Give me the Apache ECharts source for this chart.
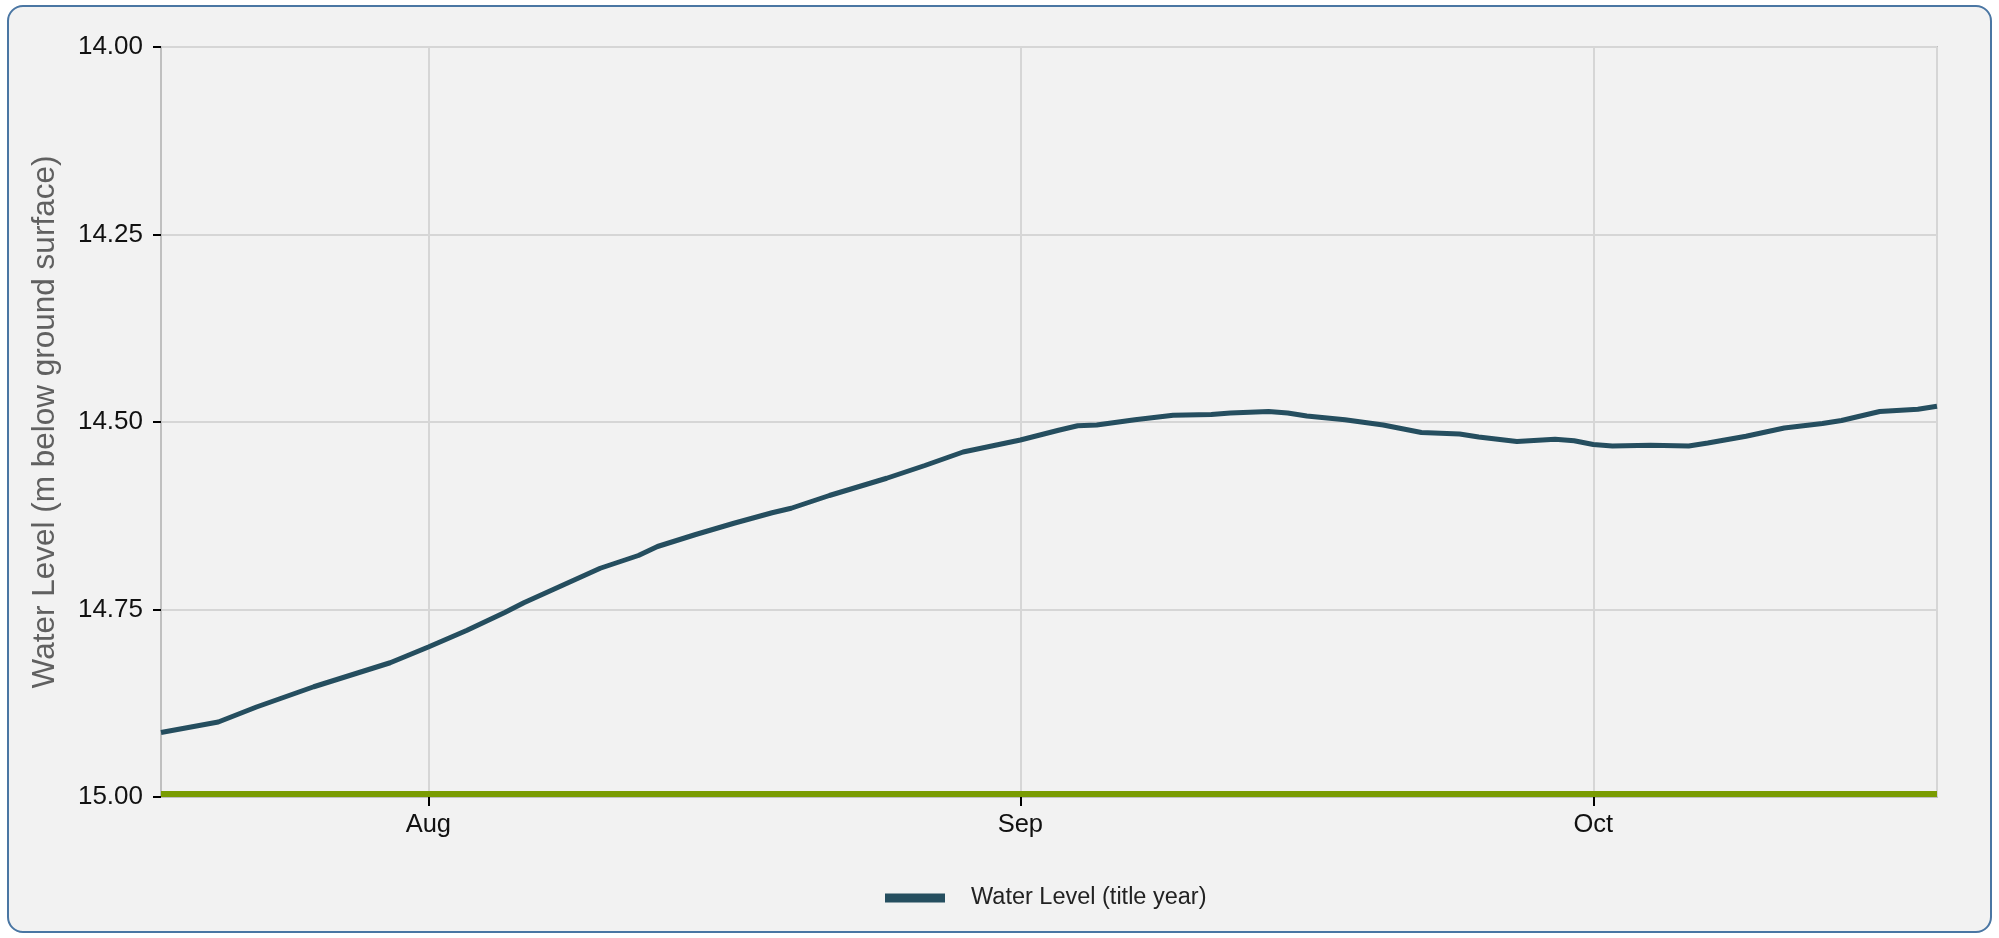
<!DOCTYPE html>
<html>
<head>
<meta charset="utf-8">
<script src="https://cdn.jsdelivr.net/npm/echarts@6/dist/echarts.min.js"></script>
<style>
  html, body { margin: 0; padding: 0; background: #ffffff; width: 1999px; height: 938px; overflow: hidden; }
  #frame { position: absolute; left: 7px; top: 5px; width: 1981px; height: 924px; border: 2px solid #4a76a3; border-radius: 16px; background: #f2f2f2; }
  #chart { position: absolute; left: 0; top: 0; width: 1999px; height: 938px; }
</style>
</head>
<body>
<div id="frame"></div>
<div id="chart"></div>
<script>
// ---- data ----
const seriesName = 'Water Level (title year)';
const dates = [
  '2024-07-18','2024-07-21','2024-07-23','2024-07-26','2024-07-28','2024-07-30',
  '2024-08-01','2024-08-03','2024-08-05','2024-08-06','2024-08-08','2024-08-10',
  '2024-08-12','2024-08-13','2024-08-15','2024-08-17','2024-08-19','2024-08-20',
  '2024-08-22','2024-08-25','2024-08-27','2024-08-29',
  '2024-09-01','2024-09-03','2024-09-04','2024-09-05','2024-09-07','2024-09-09',
  '2024-09-11','2024-09-12','2024-09-14','2024-09-15','2024-09-16','2024-09-18',
  '2024-09-20','2024-09-22','2024-09-24','2024-09-25','2024-09-27','2024-09-29',
  '2024-09-30',
  '2024-10-01','2024-10-02','2024-10-04','2024-10-06','2024-10-07','2024-10-09',
  '2024-10-11','2024-10-13','2024-10-14','2024-10-16','2024-10-18','2024-10-19'
];
const levels = [
  14.914,14.900,14.880,14.853,14.837,14.821,
  14.800,14.778,14.754,14.741,14.718,14.695,
  14.678,14.666,14.650,14.635,14.621,14.615,
  14.598,14.575,14.558,14.540,
  14.524,14.511,14.505,14.504,14.497,14.491,
  14.490,14.488,14.486,14.488,14.492,14.497,
  14.504,14.514,14.516,14.520,14.526,14.523,
  14.525,
  14.530,14.532,14.531,14.532,14.528,14.519,
  14.508,14.502,14.498,14.486,14.483,14.479
];
const xStart = '2024-07-18';
const xEnd = '2024-10-19';
const thresholdLevel = 14.996;
const yTicks = [14.00, 14.25, 14.50, 14.75, 15.00];
const monthNames = ['Jan','Feb','Mar','Apr','May','Jun','Jul','Aug','Sep','Oct','Nov','Dec'];
const yAxisTitle = 'Water Level (m below ground surface)';

// ---- chart ----
const font = '"Liberation Sans", Arial, Helvetica, sans-serif';
const chart = echarts.init(document.getElementById('chart'), null, { renderer: 'canvas' });
const lineData = dates.map((d, i) => [d, levels[i]]);

chart.setOption({
  backgroundColor: 'transparent',
  animation: false,
  textStyle: { fontFamily: font },
  grid: {
    left: 161, top: 47, width: 1776, height: 750,
    show: true, borderColor: '#c0c0c0', borderWidth: 2, backgroundColor: 'transparent',
    containLabel: false
  },
  legend: {
    data: [{ name: seriesName, icon: 'rect' }],
    left: 880, top: 881,
    itemWidth: 60, itemHeight: 9,
    textStyle: { fontSize: 23.5, color: '#222', fontFamily: font, padding: [0, 0, 0, 21] },
    selectedMode: false
  },
  xAxis: {
    type: 'time',
    min: xStart, max: xEnd,
    splitNumber: 3,
    axisLine: { show: true, lineStyle: { color: '#c0c0c0', width: 2 } },
    axisTick: { show: true, length: 9, lineStyle: { color: '#000', width: 2 } },
    splitLine: { show: true, lineStyle: { color: '#d6d6d6', width: 2 } },
    axisLabel: {
      fontSize: 25.5, color: '#111', margin: 15, fontFamily: font,
      showMinLabel: false, showMaxLabel: false,
      formatter: function (value) {
        const d = new Date(value);
        return d.getDate() === 1 ? monthNames[d.getMonth()] : '';
      }
    }
  },
  yAxis: {
    type: 'value',
    inverse: true,
    min: yTicks[0], max: yTicks[yTicks.length - 1], interval: 0.25,
    name: yAxisTitle,
    nameLocation: 'middle',
    nameGap: 100,
    nameTextStyle: { fontSize: 31.5, color: '#606060', fontFamily: font },
    axisLine: { show: true, lineStyle: { color: '#c0c0c0', width: 2 } },
    axisTick: { show: true, length: 8, lineStyle: { color: '#000', width: 2 } },
    splitLine: { show: true, lineStyle: { color: '#d6d6d6', width: 2 } },
    axisLabel: {
      fontSize: 26, color: '#111', margin: 18, fontFamily: font,
      formatter: v => v.toFixed(2)
    }
  },
  series: [
    {
      name: seriesName,
      type: 'line',
      data: lineData,
      showSymbol: false,
      smooth: false,
      color: '#254e5f',
      lineStyle: { color: '#254e5f', width: 5 },
      z: 3
    },
    {
      name: 'Threshold',
      type: 'line',
      data: [[xStart, thresholdLevel], [xEnd, thresholdLevel]],
      showSymbol: false,
      color: '#7a9c02',
      lineStyle: { color: '#7a9c02', width: 6 },
      z: 2
    }
  ]
});
</script>
</body>
</html>
